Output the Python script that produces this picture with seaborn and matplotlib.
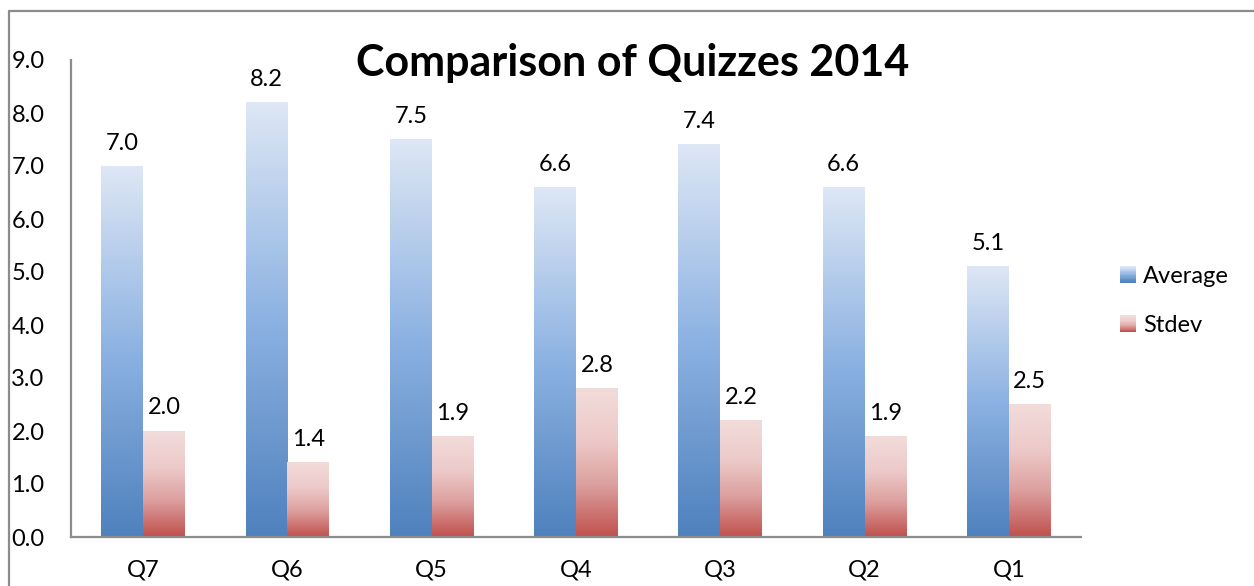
import numpy as np
import pandas as pd
import matplotlib
matplotlib.use("Agg")
import matplotlib.pyplot as plt
import seaborn as sns
from matplotlib.colors import LinearSegmentedColormap
from matplotlib.legend_handler import HandlerBase
from matplotlib.patches import Patch, Rectangle
from matplotlib.lines import Line2D

quizzes = ["Q7", "Q6", "Q5", "Q4", "Q3", "Q2", "Q1"]
average = [7.0, 8.2, 7.5, 6.6, 7.4, 6.6, 5.1]
stdev = [2.0, 1.4, 1.9, 2.8, 2.2, 1.9, 2.5]
series = ["Average", "Stdev"]
yticks = [0, 1, 2, 3, 4, 5, 6, 7, 8, 9]

df = pd.DataFrame({
    "Quiz": quizzes * 2,
    "Measure": ["Average"] * len(quizzes) + ["Stdev"] * len(quizzes),
    "Value": average + stdev,
})

# Excel style gradients (bottom -> top)
blue_cmap = LinearSegmentedColormap.from_list(
    "blue", [(0, "#4f81bd"), (0.5, "#8cb2e2"), (1, "#dee7f5")])
red_cmap = LinearSegmentedColormap.from_list(
    "red", [(0, "#c0504d"), (0.35, "#dca09f"), (0.65, "#ecc9c8"), (1, "#f2dcdb")])
cmaps = [blue_cmap, red_cmap]

sns.set_style("white")
plt.rcParams["font.family"] = ["Lato", "DejaVu Sans"]
plt.rcParams["text.color"] = "black"
plt.rcParams["xtick.color"] = "black"
plt.rcParams["ytick.color"] = "black"

fig = plt.figure(figsize=(12.54, 5.86), dpi=100)
ax = fig.add_axes([71 / 1254, 49 / 586, 1010 / 1254, 477 / 586])

sns.barplot(data=df, x="Quiz", y="Value", hue="Measure", order=quizzes,
            hue_order=series, width=0.58, legend=False, linewidth=0,
            saturation=1, ax=ax)

grad = np.linspace(0, 1, 256).reshape(-1, 1)
for cont, cmap in zip(ax.containers, cmaps):
    for bar in cont:
        x0 = bar.get_x()
        w = bar.get_width()
        h = bar.get_height()
        bar.set_facecolor("none")
        ax.imshow(grad, extent=(x0, x0 + w, 0, h), origin="lower", cmap=cmap,
                  vmin=0, vmax=1, aspect="auto", zorder=2, interpolation="bicubic")
    ax.bar_label(cont, fmt="%.1f", padding=9, fontsize=17)

ax.set_xlim(-0.5, len(quizzes) - 0.5)
ax.set_ylim(0, 9)
ax.set_yticks(yticks)
ax.set_yticklabels([f"{v:.1f}" for v in yticks])
ax.set_xlabel("")
ax.set_ylabel("")
ax.tick_params(axis="y", length=0, pad=19, labelsize=17)
ax.tick_params(axis="x", length=0, pad=16, labelsize=17)
for s in ["top", "right"]:
    ax.spines[s].set_visible(False)
for s in ["left", "bottom"]:
    ax.spines[s].set_color("#8c8c8c")
    ax.spines[s].set_linewidth(1.6)


class GradientHandler(HandlerBase):
    def __init__(self, cmap):
        super().__init__()
        self.cmap = cmap

    def create_artists(self, legend, orig_handle, xdescent, ydescent,
                       width, height, fontsize, trans):
        n = 20
        arts = []
        for i in range(n):
            r = Rectangle((-xdescent, -ydescent + height * i / n), width, height / n + 0.3,
                          facecolor=self.cmap(i / (n - 1)), edgecolor="none",
                          transform=trans)
            arts.append(r)
        return arts


handles = [Patch(label=s) for s in series]
fig.legend(handles=handles, labels=series, loc="center left",
           bbox_to_anchor=(1099 / 1254, 1 - 301 / 586), frameon=False,
           fontsize=17, labelspacing=1.2, handlelength=0.68, handleheight=0.68,
           handletextpad=0.3,
           handler_map={h: GradientHandler(c) for h, c in zip(handles, cmaps)})

fig.text(633 / 1254, 1 - 63 / 586, "Comparison of Quizzes 2014", ha="center",
         va="center", fontsize=31, fontweight="bold")

# outer frame lines (left and top)
fig.add_artist(Line2D([8.5 / 1254, 8.5 / 1254], [0, 1 - 10.5 / 586],
                      transform=fig.transFigure, color="#8c8c8c", lw=1.6))
fig.add_artist(Line2D([8.5 / 1254, 1], [1 - 10.5 / 586, 1 - 10.5 / 586],
                      transform=fig.transFigure, color="#8c8c8c", lw=1.6))

fig.savefig("out.png", dpi=100)
